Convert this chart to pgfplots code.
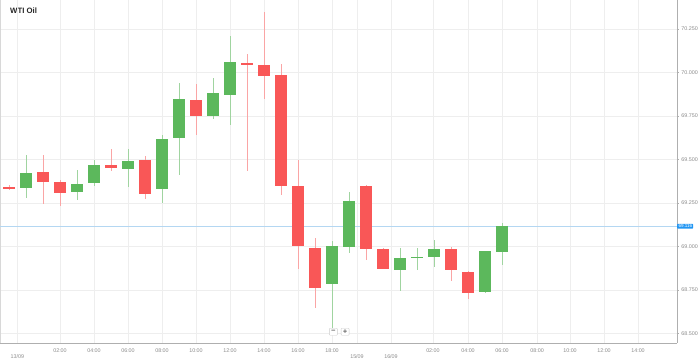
\documentclass[border=0pt]{standalone}
\usepackage{pgfplots}
\pgfplotsset{compat=1.18}
\usepackage{pgfplotstable}
\usepackage{fontspec}
\setmainfont{Liberation Sans}
\newfontfamily\dejavu{DejaVu Sans}
\definecolor{upc}{RGB}{92,184,92}
\definecolor{dnc}{RGB}{249,87,87}
\definecolor{upw}{RGB}{160,212,160}
\definecolor{dnw}{RGB}{250,165,165}
\definecolor{gridc}{RGB}{238,238,238}
\definecolor{axc}{RGB}{175,175,175}
\definecolor{labc}{RGB}{140,140,140}
\definecolor{pricec}{RGB}{180,215,242}
\definecolor{priceb}{RGB}{33,150,243}

\pgfplotstableread{
x o h l c
1 69.334 69.528 69.280 69.421
4 69.313 69.440 69.271 69.361
5 69.365 69.497 69.346 69.470
7 69.444 69.559 69.344 69.490
9 69.330 69.641 69.248 69.618
10 69.625 69.940 69.415 69.848
12 69.750 69.968 69.731 69.886
13 69.872 70.208 69.702 70.059
19 68.783 69.032 68.533 69.001
20 68.995 69.312 68.964 69.260
23 68.867 68.990 68.746 68.938
24 68.934 68.990 68.865 68.942
25 68.938 69.036 68.884 68.987
28 68.739 68.975 68.735 68.972
29 68.967 69.139 68.898 69.116
}\upT

\pgfplotstableread{
x o h l c
0 69.342 69.353 69.325 69.330
2 69.426 69.528 69.244 69.371
3 69.375 69.382 69.234 69.309
6 69.467 69.559 69.434 69.451
8 69.495 69.520 69.273 69.300
11 69.844 69.934 69.641 69.752
14 70.056 70.110 69.434 70.046
15 70.043 70.348 69.849 69.982
16 69.987 70.049 69.300 69.349
17 69.346 69.497 68.871 69.001
18 68.995 69.051 68.647 68.761
21 69.346 69.352 68.924 68.986
22 68.984 68.993 68.871 68.871
26 68.986 69.001 68.803 68.863
27 68.855 68.860 68.697 68.734
}\dnT

\begin{document}
\begin{tikzpicture}
\useasboundingbox (0,0) rectangle (698bp,360bp);
\node[anchor=west, font=\fontsize{7.8}{9}\selectfont\bfseries, text=black!85, inner sep=0pt] at (10bp,349.5bp) {WTI Oil};
\begin{axis}[
  at={(0bp,17bp)}, anchor=south west,
  scale only axis, width=677bp, height=343bp,
  xmin=-0.5294, xmax=39.294, ymin=68.4454, ymax=70.4167,
  clip=false,
  axis x line*=bottom, axis y line*=right,
  axis line style={draw=axc, line width=0.8bp},
  grid=major, major grid style={draw=gridc, line width=0.6bp},
  xtick={3,5,7,9,11,13,15,17,19,24.94,27,29,31.06,33,35,37},
  xticklabels={02:00,04:00,06:00,08:00,10:00,12:00,14:00,16:00,18:00,02:00,04:00,06:00,08:00,10:00,12:00,14:00},
  extra x ticks={0.49,20.47,22.47},
  extra x tick labels={13/09,15/09,16/09},
  extra x tick style={grid=major, major tick length=6bp,
     tick style={draw=axc, dashed, dash pattern=on 1bp off 1bp, line width=0.6bp},
     xticklabel style={yshift=-1.5bp}},
  x tick style={draw=none},
  xticklabel style={font=\fontsize{5.4}{6}\selectfont, text=labc, inner sep=0pt, yshift=-3.5bp},
  ytick={68.5,68.75,69,69.25,69.5,69.75,70,70.25},
  tick align=outside, major tick length=2bp,
  y tick style={draw=axc, line width=0.6bp},
  yticklabel style={font=\fontsize{5.4}{6}\selectfont, text=labc, inner sep=0pt, anchor=west, xshift=2.2bp,
     /pgf/number format/.cd, fixed, fixed zerofill, precision=3},
  /pgf/number format/assume math mode=true,
]
\draw[draw=gridc!80!gray, line width=0.6bp] (rel axis cs:0,0) -- (rel axis cs:0,1);
% current price line
\addplot[draw=pricec, line width=0.9bp, mark=none, forget plot] coordinates {(-0.5294,69.116) (39.294,69.116)};
% wicks
\addplot[draw=none, mark=none, forget plot,
  error bars/.cd, y dir=both, y explicit, error mark=none,
  error bar style={draw=upw, line width=0.9bp}]
  table[x=x, y expr={(\thisrow{h}+\thisrow{l})/2}, y error expr={(\thisrow{h}-\thisrow{l})/2}] {\upT};
\addplot[draw=none, mark=none, forget plot,
  error bars/.cd, y dir=both, y explicit, error mark=none,
  error bar style={draw=dnw, line width=0.9bp}]
  table[x=x, y expr={(\thisrow{h}+\thisrow{l})/2}, y error expr={(\thisrow{h}-\thisrow{l})/2}] {\dnT};
% bodies
\addplot[draw=none, mark=none, forget plot,
  error bars/.cd, y dir=both, y explicit, error mark=none,
  error bar style={draw=upc, line width=11.2bp}]
  table[x=x, y expr={(\thisrow{o}+\thisrow{c})/2}, y error expr={abs(\thisrow{c}-\thisrow{o})/2}] {\upT};
\addplot[draw=none, mark=none, forget plot,
  error bars/.cd, y dir=both, y explicit, error mark=none,
  error bar style={draw=dnc, line width=11.2bp}]
  table[x=x, y expr={(\thisrow{o}+\thisrow{c})/2}, y error expr={abs(\thisrow{c}-\thisrow{o})/2}] {\dnT};
% price label
\node[anchor=west, fill=priceb, text=white, font=\fontsize{4.6}{5}\selectfont, inner sep=0.8bp, rounded corners=0.6bp] at (axis cs:39.294,69.116) {\hspace{0.6bp}69.116};
% zoom buttons
\node[draw=gridc!70!gray, fill=white, rounded corners=0.8bp, inner sep=0.6bp, minimum width=8bp, minimum height=7bp, font=\dejavu\fontsize{6}{6}\selectfont\bfseries, text=black!70] at (axis cs:19.08,68.51) {−};
\node[draw=gridc!70!gray, fill=white, rounded corners=0.8bp, inner sep=0.6bp, minimum width=8bp, minimum height=7bp, font=\dejavu\fontsize{6}{6}\selectfont\bfseries, text=black!70] at (axis cs:19.77,68.51) {+};
\end{axis}
\end{tikzpicture}
\end{document}
